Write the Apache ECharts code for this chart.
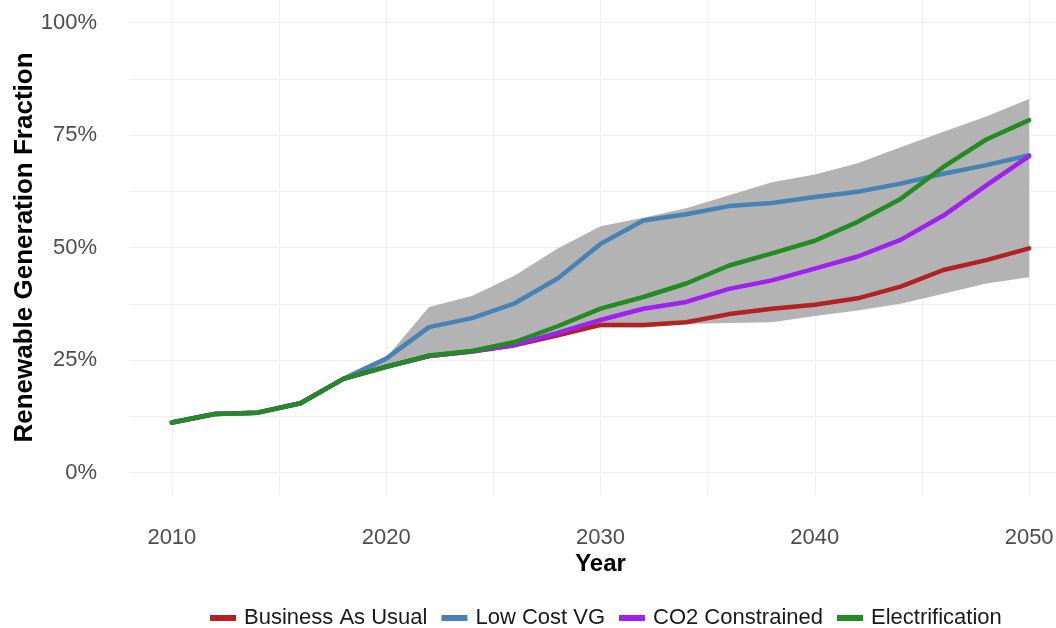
<!DOCTYPE html>
<html>
<head>
<meta charset="utf-8">
<script src="https://cdn.jsdelivr.net/npm/echarts@6/dist/echarts.min.js"></script>
<style>
html,body{margin:0;padding:0;background:#fff;}
#chart{width:1056px;height:628px;}
</style>
</head>
<body>
<div id="chart"></div>
<script>
const years = [2010,2012,2014,2016,2018,2020,2022,2024,2026,2028,2030,2032,2034,2036,2038,2040,2042,2044,2046,2048,2050];
const businessAsUsual = [11.1,13.0,13.3,15.4,20.8,23.5,25.9,26.9,28.3,30.5,32.8,32.8,33.4,35.2,36.4,37.3,38.7,41.3,45.0,47.2,49.8];
const lowCostVG       = [11.1,13.0,13.3,15.4,20.8,25.3,32.3,34.3,37.6,43.1,50.8,56.0,57.4,59.2,59.9,61.2,62.4,64.2,66.4,68.3,70.5];
const co2Constrained  = [11.1,13.0,13.3,15.4,20.8,23.5,25.9,26.9,28.4,31.0,33.9,36.4,37.9,40.8,42.7,45.3,48.0,51.7,57.1,63.8,70.3];
const electrification = [11.1,13.0,13.3,15.4,20.8,23.5,26.0,27.0,29.0,32.5,36.4,39.0,42.0,46.0,48.7,51.5,55.7,60.8,67.9,74.0,78.3];
const bandUpper       = [11.1,13.0,13.3,15.4,20.8,25.5,36.8,39.2,43.8,49.8,54.7,56.6,58.7,61.6,64.5,66.2,68.7,72.3,75.7,79.1,83.0];
const bandLower       = [11.1,13.0,13.3,15.4,20.8,23.3,25.4,26.5,27.8,30.0,32.3,32.2,33.0,33.2,33.4,34.8,36.0,37.5,39.7,42.0,43.4];
const seriesNames = ['Business As Usual','Low Cost VG','CO2 Constrained','Electrification'];
const xTickLabels = [2010,2020,2030,2040,2050];
const xGridValues = [2010,2015,2020,2025,2030,2035,2040,2045,2050];
const yTickLabels = [0,25,50,75,100];
const yGridValues = [0,12.5,25,37.5,50,62.5,75,87.5,100];

const colors = ['#B22222','#4682B4','#A020F0','#228B22'];
const lineValues = [businessAsUsual, lowCostVG, co2Constrained, electrification];
const pairs = arr => years.map((y,i)=>[y, arr[i]]);

const chart = echarts.init(document.getElementById('chart'), null, {renderer:'canvas'});
const font = 'Liberation Sans, Arial, sans-serif';

const series = [
  {
    name:'band', type:'custom', silent:true, z:1,
    data: years.map((y,i)=>[y, bandLower[i], bandUpper[i]]),
    encode:{x:0, y:[1,2]},
    renderItem: function(params, api){
      if (params.dataIndex !== 0) return null;
      const pts = [];
      for (let i=0;i<years.length;i++) pts.push(api.coord([years[i], bandUpper[i]]));
      for (let i=years.length-1;i>=0;i--) pts.push(api.coord([years[i], bandLower[i]]));
      return {type:'polygon', shape:{points:pts}, style:{fill:'#B3B3B3', stroke:null}};
    }
  }
];
seriesNames.forEach((n,k)=>{
  series.push({
    name:n, type:'line', data: pairs(lineValues[k]), symbol:'none',
    lineStyle:{color:colors[k], width:4.5, cap:'round', join:'round'},
    itemStyle:{color:colors[k]}, z:2+k
  });
});

chart.setOption({
  animation:false,
  backgroundColor:'#ffffff',
  grid:{left:129, top:0, width:943, height:495, containLabel:false, outerBoundsMode:'none'},
  xAxis:{
    type:'value', min:2008, max:2052,
    name:'Year', nameLocation:'middle', nameGap:57, nameMoveOverlap:false,
    nameTextStyle:{fontFamily:font, fontSize:24, fontWeight:'bold', color:'#000'},
    axisLine:{show:false},
    axisTick:{show:false, customValues:xGridValues},
    axisLabel:{customValues:xTickLabels, fontFamily:font, fontSize:22, color:'#4D4D4D', margin:32,
      formatter: v => String(Math.round(v))},
    splitLine:{show:true, lineStyle:{color:'#EEEEEE', width:1}}
  },
  yAxis:{
    type:'value', min:-5, max:105,
    name:'Renewable Generation Fraction', nameLocation:'middle', nameGap:91, nameRotate:90, nameMoveOverlap:false,
    nameTextStyle:{fontFamily:font, fontSize:26, fontWeight:'bold', color:'#000'},
    axisLine:{show:false},
    axisTick:{show:false, customValues:yGridValues},
    axisLabel:{customValues:yTickLabels, fontFamily:font, fontSize:22, color:'#4D4D4D', margin:32,
      formatter: v => Math.round(v) + '%'},
    splitLine:{show:true, lineStyle:{color:'#EEEEEE', width:1}}
  },
  legend:{
    data: seriesNames.map((n,k)=>({name:n, icon:'rect', itemStyle:{color:colors[k]}})),
    left:205, top:602, itemWidth:26, itemHeight:6, itemGap:14,
    textStyle:{fontFamily:font, fontSize:22, color:'#1A1A1A', padding:[0,0,0,3]}
  },
  series: series
});
</script>
</body>
</html>
